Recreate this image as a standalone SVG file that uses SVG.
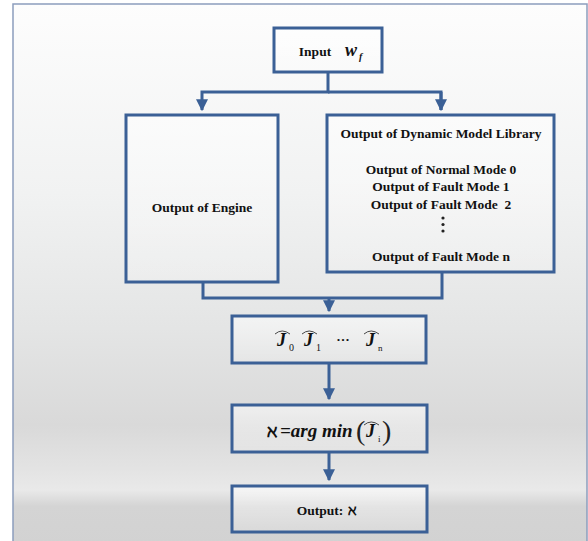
<svg xmlns="http://www.w3.org/2000/svg" width="588" height="541" viewBox="0 0 588 541">
<defs>
<linearGradient id="bg" x1="0" y1="0" x2="0" y2="1">
<stop offset="0" stop-color="#fdfdfd"/>
<stop offset="0.35" stop-color="#f1f2f2"/>
<stop offset="0.6" stop-color="#e4e5e5"/>
<stop offset="0.78" stop-color="#d9d9d9"/>
<stop offset="0.86" stop-color="#e3e3e3"/>
<stop offset="0.9" stop-color="#e9e9e9"/>
<stop offset="0.93" stop-color="#d4d4d4"/>
<stop offset="1" stop-color="#d2d2d2"/>
</linearGradient>
<linearGradient id="boxfill" x1="0" y1="0" x2="0" y2="1">
<stop offset="0" stop-color="#ffffff" stop-opacity="0.55"/>
<stop offset="1" stop-color="#ffffff" stop-opacity="0.15"/>
</linearGradient>
<marker id="arr" viewBox="0 0 10 10" refX="9" refY="5" markerWidth="4" markerHeight="4" orient="auto" markerUnits="strokeWidth">
<path d="M0,0 L10,5 L0,10 z" fill="#3b6096"/>
</marker>
</defs>
<style>
.box{fill:url(#boxfill);stroke:#3b6096;stroke-width:3}
.ln{fill:none;stroke:#3b6096;stroke-width:3}
.t{font-family:'Liberation Serif','Times New Roman',serif;font-weight:bold;font-size:13.5px;fill:#111;text-anchor:middle}
.m{font-family:'Liberation Serif','Times New Roman',serif;font-weight:bold;font-style:italic;fill:#111}
.s{font-family:'Liberation Serif','Times New Roman',serif;font-size:10px;fill:#111}
.hat{fill:none;stroke:#333;stroke-width:0.9}
</style>
<rect x="0" y="0" width="588" height="541" fill="#ffffff"/>
<rect x="13" y="4" width="574" height="540" fill="url(#bg)" stroke="#8c9dbd" stroke-width="1.5"/>

<g id="connectors">
<path class="ln" d="M328,72 V92 H202 V110" marker-end="url(#arr)"/>
<path class="ln" d="M328,92 H441 V110"/>
<path class="ln" d="M441,92 V110" marker-end="url(#arr)"/>
<path class="ln" d="M203,282 V298 H442 V272"/>
<path class="ln" d="M329,298 V311" marker-end="url(#arr)"/>
<path class="ln" d="M329,364 V399" marker-end="url(#arr)"/>
<path class="ln" d="M329,453 V480" marker-end="url(#arr)"/>
</g>

<g id="input">
<rect class="box" x="274" y="28" width="108" height="44"/>
<text class="t" x="315" y="56">Input</text>
<text class="m" x="345" y="56" font-size="18">w</text>
<text class="m" x="359" y="60" font-size="10">f</text>
</g>

<g id="engine">
<rect class="box" x="126" y="115" width="152" height="167"/>
<text class="t" x="202" y="212">Output of Engine</text>
</g>

<g id="library">
<rect class="box" x="327" y="115" width="227" height="157"/>
<text class="t" x="441" y="138">Output of Dynamic Model Library</text>
<text class="t" x="441" y="174">Output of Normal Mode 0</text>
<text class="t" x="441" y="191">Output of Fault Mode 1</text>
<text class="t" x="441" y="209" xml:space="preserve">Output of Fault Mode  2</text>
<circle cx="443" cy="218" r="1.6" fill="#222"/>
<circle cx="443" cy="224.5" r="1.6" fill="#222"/>
<circle cx="443" cy="231" r="1.6" fill="#222"/>
<text class="t" x="441" y="261">Output of Fault Mode n</text>
</g>

<g id="jhat">
<rect class="box" x="232" y="316" width="194" height="47"/>
<text class="m" x="277" y="346" font-size="18">J</text>
<text class="s" x="289" y="351">0</text>
<path class="hat" d="M275,334 Q282,328 290,334"/>
<text class="m" x="304" y="346" font-size="18">J</text>
<text class="s" x="316" y="351">1</text>
<path class="hat" d="M302,334 Q309,328 317,334"/>
<text class="t" x="343" y="344">···</text>
<text class="m" x="366" y="346" font-size="18">J</text>
<text class="s" x="378" y="351" style="font-size:9px">n</text>
<path class="hat" d="M364,334 Q371,328 379,334"/>
</g>

<g id="argmin">
<rect class="box" x="232" y="405" width="195" height="47"/>
<text x="267" y="437" font-family="'DejaVu Serif','Liberation Serif',serif" font-weight="bold" font-size="17" fill="#111">ℵ</text>
<text class="m" x="280" y="437" font-size="19">=arg min</text>
<text x="356" y="440" font-family="'Liberation Serif',serif" font-size="28" fill="#222">(</text>
<text class="m" x="366" y="437" font-size="18">J</text>
<text class="s" x="378" y="442" style="font-size:9px">i</text>
<path class="hat" d="M364,425 Q371,419 379,425"/>
<text x="382" y="440" font-family="'Liberation Serif',serif" font-size="28" fill="#222">)</text>
</g>

<g id="output">
<rect class="box" x="232" y="486" width="195" height="46"/>
<text class="t" x="320" y="515">Output:</text>
<text x="348" y="515" font-family="'DejaVu Serif','Liberation Serif',serif" font-weight="bold" font-size="14" fill="#111">ℵ</text>
</g>
</svg>
